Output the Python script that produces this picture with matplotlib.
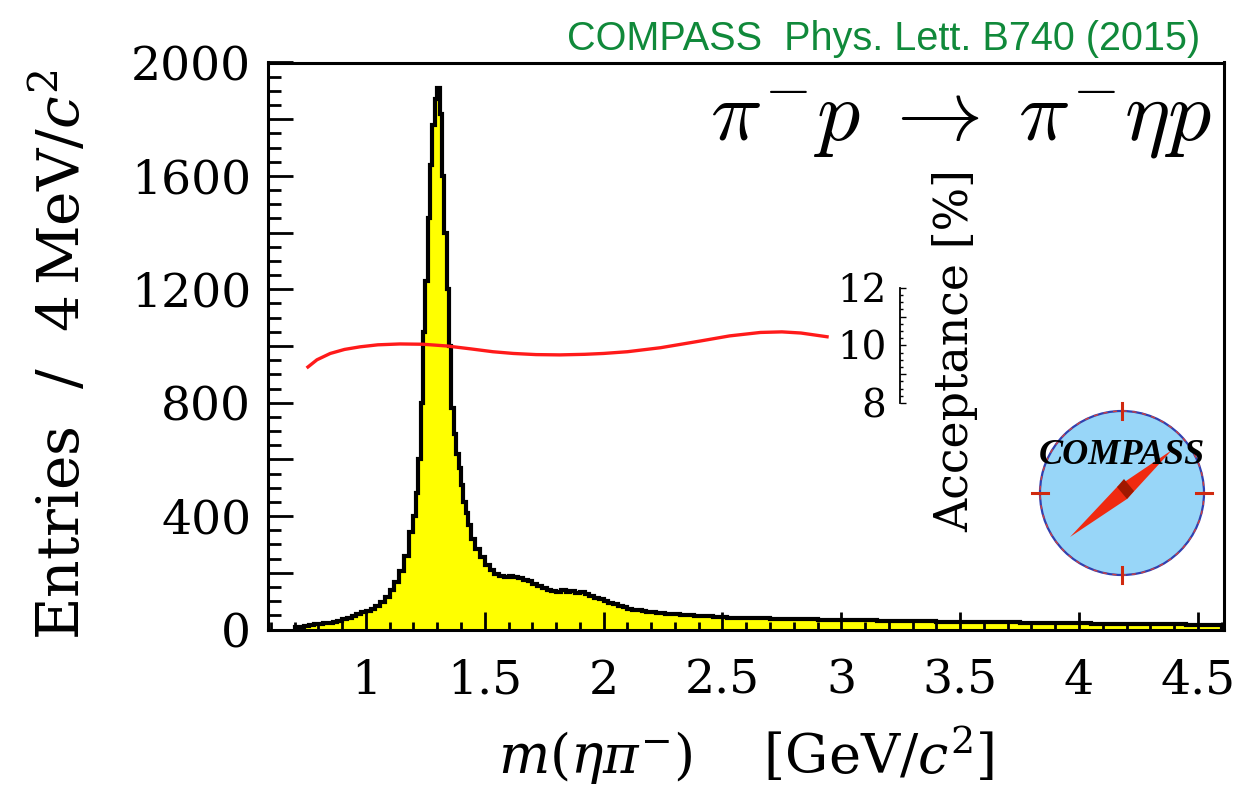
import numpy as np
import matplotlib.pyplot as plt
from matplotlib.ticker import MultipleLocator, FuncFormatter, FixedLocator
from matplotlib.patches import Circle, Polygon

# eta pi- invariant mass spectrum (entries / 4 MeV/c^2)
EDGES = np.concatenate([
    np.linspace(0.70, 1.20, 26)[:-1],
    np.linspace(1.20, 1.44, 25)[:-1],
    np.linspace(1.44, 2.60, 59)[:-1],
    np.linspace(2.60, 4.60, 41),
])
COUNTS = [
    8, 10, 12, 16, 20, 20, 22, 24, 27, 30, 36, 42, 46, 54, 60, 66, 74, 84,
    96, 115, 138, 168, 205, 260, 345,
    # peak, 10 MeV steps
    400, 480, 600, 800, 1050, 1230, 1450, 1640, 1780, 1870, 1910, 1820,
    1600, 1400, 1200, 1000, 780, 690, 620, 570, 510, 450, 410, 370,
    # 1.44 - 2.60
    320, 285, 255, 228, 210, 195, 188, 186, 190, 184, 182, 176, 170, 160,
    152, 146, 140, 136, 134, 138, 132, 135, 130, 132, 126, 118, 112, 106,
    100, 95, 90, 84, 78, 74, 70, 68, 64, 63, 61, 58, 57, 55, 54, 53, 51,
    52, 50, 49, 48, 47, 46, 45, 45, 43, 42, 42, 41, 40,
    # 2.60 - 4.60
    40, 39, 38, 37, 36, 36, 35, 34, 34, 33, 32, 31, 31, 30, 29, 29, 28,
    27, 27, 26, 26, 25, 25, 24, 24, 23, 23, 22, 22, 21, 21, 20, 20, 19,
    19, 18, 18, 17, 17, 16,
]

# acceptance [%]
ACC_X = [0.756, 0.794, 0.85, 0.91, 0.975, 1.05, 1.143, 1.24, 1.34, 1.44,
         1.534, 1.62, 1.716, 1.816, 1.92, 2.00, 2.10, 2.24, 2.405, 2.53,
         2.66, 2.75, 2.83, 2.94]
ACC_Y = [9.25, 9.50, 9.72, 9.86, 9.95, 10.02, 10.05, 10.04, 9.98, 9.88,
         9.78, 9.72, 9.68, 9.67, 9.69, 9.72, 9.78, 9.92, 10.15, 10.33,
         10.45, 10.47, 10.43, 10.30]

YTICKS_LABELLED = [0, 400, 800, 1200, 1600, 2000]
ACC_TICKS = [8, 9, 10, 11, 12]
ACC_LABELLED = [8, 10, 12]

W, H = 1246, 802
fig = plt.figure(figsize=(W / 100, H / 100), dpi=100)
plt.rcParams['font.family'] = 'DejaVu Serif'
plt.rcParams['mathtext.fontset'] = 'dejavuserif'

ax = fig.add_axes([268 / W, (H - 629.5) / H, (1224 - 268) / W, 567 / H])
ax.set_xlim(0.588, 4.61)
ax.set_ylim(0, 2000)

ax.stairs(COUNTS, EDGES, fill=True, color='#ffff00', zorder=2)
ax.stairs(COUNTS, EDGES, color='black', lw=3.0, zorder=3)

# acceptance curve on its own little scale
ax2 = ax.twinx()
ax2.set_ylim(0.128, 19.83)
ax2.plot(ACC_X, ACC_Y, color='#ff1a1a', lw=2.4, zorder=5)
for k in ['right', 'top', 'bottom']:
    ax2.spines[k].set_visible(False)
ax2.spines['left'].set_visible(True)
ax2.spines['left'].set_position(('data', 3.247))
ax2.spines['left'].set_bounds(ACC_TICKS[0], ACC_TICKS[-1])
ax2.spines['left'].set_linewidth(1.3)
ax2.yaxis.tick_left()
ax2.yaxis.set_major_locator(FixedLocator(ACC_TICKS))
ax2.yaxis.set_minor_locator(FixedLocator(np.arange(8, 12.01, 0.25)))
ax2.yaxis.set_major_formatter(FuncFormatter(
    lambda v, p: '%d' % v if int(round(v)) in ACC_LABELLED else ''))
ax2.tick_params(which='both', direction='in', width=1, labelsize=28, pad=10)
ax2.tick_params(which='major', length=4)
ax2.tick_params(which='minor', length=2)
ax2.text(3.478, 9.84, 'Acceptance [%]', rotation=90, ha='center',
         va='center', fontsize=33)

# main frame and ticks
ax.set_axisbelow(False)
for s in ax.spines.values():
    s.set_linewidth(2.2)
    s.set_zorder(6)
ax.xaxis.set_major_locator(MultipleLocator(0.5))
ax.xaxis.set_minor_locator(MultipleLocator(0.1))
ax.yaxis.set_major_locator(MultipleLocator(200))
ax.yaxis.set_minor_locator(MultipleLocator(50))
ax.yaxis.set_major_formatter(FuncFormatter(
    lambda v, p: '%d' % v if int(round(v)) in YTICKS_LABELLED else ''))
ax.xaxis.set_major_formatter(FuncFormatter(lambda v, p: '%g' % v))
ax.tick_params(which='both', direction='in', left=True, bottom=True,
               top=False, right=False, width=2, color='black', labelsize=34)
ax.tick_params(axis='y', which='major', length=18, pad=12)
ax.tick_params(axis='y', which='minor', length=9)
ax.tick_params(axis='x', which='major', length=13, pad=21)
ax.tick_params(axis='x', which='minor', length=6)

ax.set_ylabel('Entries  /  4$\\,$MeV/$c^2$', fontsize=42, labelpad=22)
ax.yaxis.set_label_coords(-0.185, 0.485)
ax.set_xlabel('$m(\\eta\\pi^{-})$    [GeV/$c^2$]', fontsize=39, labelpad=14)

# reference and reaction
fig.text(1200 / W, (H - 50) / H, 'COMPASS  Phys. Lett. B740 (2015)',
         color='#10893a', fontsize=28.5, family='Liberation Sans',
         ha='right', va='baseline')
fig.text(1212 / W, (H - 140) / H,
         '$\\pi^{-}p\\;\\rightarrow\\;\\pi^{-}\\eta p$',
         fontsize=62, math_fontfamily='cm', ha='right', va='baseline')

# COMPASS logo
lg = fig.add_axes([(1122 - 100) / W, (H - 493 - 100) / H, 200 / W, 200 / H])
lg.set_xlim(-100, 100)
lg.set_ylim(-100, 100)
lg.axis('off')
lg.add_patch(Circle((0, 0), 82, facecolor='#98d6f8', edgecolor='#3040b0',
                    lw=1.6))
lg.add_patch(Circle((0, 0), 82, facecolor='none', edgecolor='#d04040',
                    lw=1.0, ls=(0, (3, 4))))
for dx, dy in [(1, 0), (-1, 0), (0, 1), (0, -1)]:
    lg.plot([dx * 74, dx * 90], [dy * 74, dy * 90], color='#d02a10', lw=2.2)
lg.add_patch(Polygon([(-52, -44), (5, -6), (50, 43), (-5, 6)],
                     closed=True, facecolor='#f02a10', edgecolor='none'))
lg.add_patch(Polygon([(-5, 6), (5, -6), (12, 2), (2, 14)],
                     closed=True, facecolor='#a01800', edgecolor='none'))
lg.text(0, 38, 'COMPASS', family='Liberation Serif', fontweight='bold',
        fontstyle='italic', fontsize=26, ha='center', va='center')

fig.savefig('out.png', dpi=100, facecolor='white')
